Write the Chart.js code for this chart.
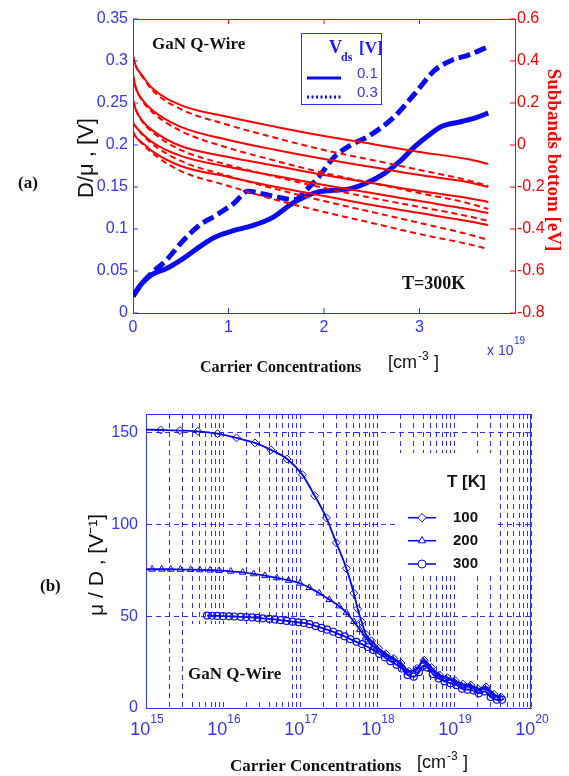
<!DOCTYPE html>
<html><head><meta charset="utf-8">
<script src="https://cdn.jsdelivr.net/npm/chart.js@4.4.1/dist/chart.umd.min.js"></script>
<style>
html,body{margin:0;padding:0;background:#fff;width:569px;height:776px;overflow:hidden}
canvas{position:absolute;left:0}
#ca{top:0}
#cb{top:395px}
</style></head><body>
<canvas id="ca" width="569" height="395"></canvas>
<canvas id="cb" width="569" height="381"></canvas>
<script>
// ================= (a) data =================
// carrier concentration in units of 1e19 cm^-3
const concSolid = [0,0.05,0.1,0.2,0.35,0.5,0.7,0.85,1.05,1.25,1.45,1.69,1.93,2.1,2.28,2.45,2.63,2.8,2.95,3.1,3.23,3.44,3.6,3.72];
const dmuSolid  = [0.020,0.029,0.036,0.046,0.053,0.063,0.079,0.090,0.098,0.104,0.113,0.132,0.144,0.146,0.148,0.155,0.166,0.181,0.198,0.212,0.222,0.228,0.233,0.238];
const concDash  = [0,0.1,0.2,0.35,0.5,0.7,0.85,1.06,1.2,1.35,1.5,1.7,1.8,1.93,2.11,2.28,2.46,2.74,2.95,3.16,3.34,3.51,3.72];
const dmuDash   = [0.020,0.036,0.048,0.063,0.083,0.105,0.115,0.131,0.145,0.142,0.138,0.135,0.145,0.160,0.186,0.200,0.210,0.234,0.261,0.289,0.301,0.307,0.317];
// subband bottoms [eV]
const subX = [0,0.03,0.1,0.2,0.5,1,1.5,2,2.5,3,3.5,3.72];
const sub1Solid = [0.424,0.376,0.329,0.271,0.190,0.133,0.086,0.043,0.005,-0.033,-0.067,-0.090];
const sub2Solid = [0.333,0.271,0.214,0.167,0.086,0.024,-0.024,-0.067,-0.105,-0.143,-0.176,-0.200];
const sub3Solid = [0.214,0.167,0.114,0.071,-0.005,-0.057,-0.100,-0.143,-0.181,-0.219,-0.252,-0.271];
const sub4Solid = [0.105,0.086,0.052,0.014,-0.052,-0.105,-0.148,-0.190,-0.229,-0.267,-0.305,-0.324];
const sub5Solid = [0.062,0.038,0.010,-0.029,-0.100,-0.152,-0.200,-0.243,-0.286,-0.324,-0.362,-0.381];
const sub1Dash  = [0.424,0.376,0.324,0.262,0.171,0.095,0.033,-0.024,-0.071,-0.119,-0.167,-0.195];
const sub2Dash  = [0.333,0.271,0.210,0.157,0.067,-0.014,-0.076,-0.133,-0.181,-0.229,-0.276,-0.305];
const sub3Dash  = [0.214,0.167,0.110,0.062,-0.024,-0.095,-0.152,-0.205,-0.252,-0.295,-0.338,-0.362];
const sub4Dash  = [0.105,0.086,0.048,0.005,-0.076,-0.148,-0.210,-0.267,-0.319,-0.371,-0.424,-0.452];
const sub5Dash  = [0.062,0.038,0.005,-0.038,-0.124,-0.195,-0.262,-0.319,-0.371,-0.424,-0.471,-0.495];
// tick labels (a)
const concTicksA = [0,1,2,3];
const concTickLabelsA = ['0','1','2','3'];
const dmuTicks = [0,0.05,0.1,0.15,0.2,0.25,0.3,0.35];
const dmuTickLabels = ['0','0.05','0.1','0.15','0.2','0.25','0.3','0.35'];
const evTicks = [-0.8,-0.6,-0.4,-0.2,0,0.2,0.4,0.6];
const evTickLabels = ['-0.8','-0.6','-0.4','-0.2','0','0.2','0.4','0.6'];

// ================= (b) data =================
const t100N = [1e15,1.55e15,2.75e15,4.7e15,8.5e15,1.5e16,2.6e16,4.2e16,6.8e16,1.07e17,1.55e17,2.2e17,2.95e17,4e17,5e17,5.6e17,6.3e17,7.2e17,8.5e17,1.05e18,1.3e18,1.65e18,2.05e18,2.6e18,3.3e18,4.1e18,5.1e18,6.5e18,8.2e18,1.03e19,1.3e19,1.65e19,2.05e19,2.6e19,3.3e19,4.1e19];
const t100V = [151.5,151.3,151.0,150.6,149.3,147.0,144.3,140.5,135.5,127.0,115.5,103.5,90.0,76.0,62.5,54,47,40,36.5,32.5,29.5,27,24.5,20,21.5,26,22,18,16.5,15,13,12.5,10.5,11.5,7.5,6];
const t200N = [1e15,1.2e15,1.6e15,2.1e15,2.8e15,3.8e15,5e15,6.8e15,8.9e15,1.26e16,1.8e16,2.5e16,3.5e16,5e16,7.1e16,1e17,1.32e17,1.78e17,2.4e17,3.2e17,4e17,5e17,6e17,7.1e17,7.9e17,1e18,1.26e18,1.6e18,2e18,2.5e18,3.2e18,4e18,5e18,6.3e18,7.9e18,1e19,1.26e19,1.6e19,2e19,2.5e19,3.2e19,4e19];
const t200V = [75.5,75.5,75.5,75.5,75.4,75.3,75.2,75.0,74.8,74.4,73.8,73.0,72.0,70.8,69.4,67.9,65.5,62.5,59,55.5,52,47,42.6,38.5,36,32,29,26.5,24,19.5,20.5,25.5,21,17.5,16,14.5,12,12,9.5,11,7,5.5];
const t300N = [6.2e15,7.2e15,8.4e15,1e16,1.2e16,1.4e16,1.7e16,2e16,2.4e16,2.8e16,3.3e16,4e16,4.7e16,5.6e16,6.7e16,8e16,9.5e16,1.12e17,1.33e17,1.6e17,1.9e17,2.25e17,2.7e17,3.2e17,3.8e17,4.5e17,5.4e17,6.4e17,7.6e17,9e17,1.07e18,1.27e18,1.5e18,1.8e18,2.1e18,2.5e18,3e18,3.5e18,4e18,4.5e18,5.3e18,6.3e18,7.5e18,9e18,1.07e19,1.27e19,1.5e19,1.8e19,2.1e19,2.5e19,3e19,3.6e19,4.2e19];
const t300V = [50.3,50.2,50.1,50.0,49.9,49.8,49.6,49.5,49.3,49.1,48.8,48.5,48.2,47.8,47.4,47.0,46.6,46.3,45.6,44.6,43.6,42.6,41.5,40.2,39.0,37.5,36.0,34.8,33.2,31.5,29.5,27.5,25.5,23.5,21.5,18,17,19.5,23,22,18.5,16,14.5,13.5,12.5,10.5,10,9.5,8,9,6,4.5,4.5];
const legendTemps = ['100','200','300'];
const muTicks = [0,50,100,150];
const muTickLabels = ['0','50','100','150'];
const decadeExps = [15,16,17,18,19,20];
const decadeBase = '10';

// ================= styling =================
const lineBlue = '#0a0af2', axisBlue = '#3434ff', red = '#ff0000', gridBlue = '#2f2fff';
const tickFamily = "'Liberation Sans',Arial,sans-serif";
const serifB = "'Liberation Serif','Times New Roman',serif";
const sansF = "'Liberation Sans',Arial,sans-serif";
const pts = (xs, ys) => xs.map((x, i) => ({x, y: ys[i]}));

function txt(ctx, s, x, y, font, color, align, base, rot) {
  ctx.save();
  ctx.font = font; ctx.fillStyle = color || '#000';
  ctx.textAlign = align || 'left'; ctx.textBaseline = base || 'alphabetic';
  ctx.translate(x, y); if (rot) ctx.rotate(rot);
  ctx.fillText(s, 0, 0);
  ctx.restore();
}
function seg(ctx, x1, y1, x2, y2, color, w, dash) {
  ctx.save(); ctx.strokeStyle = color; ctx.lineWidth = w || 1; ctx.setLineDash(dash || []);
  ctx.beginPath(); ctx.moveTo(x1, y1); ctx.lineTo(x2, y2); ctx.stroke(); ctx.restore();
}
function measure(ctx, s, font) { ctx.save(); ctx.font = font; const w = ctx.measureText(s).width; ctx.restore(); return w; }
function cmUnit(ctx, x, y, color) {
  txt(ctx, '[cm', x, y, "18px " + sansF, color);
  const w = measure(ctx, '[cm', "18px " + sansF);
  txt(ctx, '-3', x + w + 1, y - 8, "12px " + sansF, color);
  txt(ctx, ']', x + w + 17, y, "18px " + sansF, color);
}

// ================= chart (a) =================
const redSolid = [sub1Solid, sub2Solid, sub3Solid, sub4Solid, sub5Solid];
const redDash = [sub1Dash, sub2Dash, sub3Dash, sub4Dash, sub5Dash];
const dsA = [];
redSolid.forEach((arr, i) => dsA.push({label: 'Subband ' + (i + 1) + ' Vds=0.1', data: pts(subX, arr), yAxisID: 'y2', borderColor: red, borderWidth: 2, order: 0, cubicInterpolationMode: 'monotone'}));
redDash.forEach((arr, i) => dsA.push({label: 'Subband ' + (i + 1) + ' Vds=0.3', data: pts(subX, arr), yAxisID: 'y2', borderColor: red, borderWidth: 2, borderDash: [6, 4], order: 0, cubicInterpolationMode: 'monotone'}));
dsA.push({label: 'D/mu Vds=0.1', data: pts(concSolid, dmuSolid), yAxisID: 'y', borderColor: lineBlue, borderWidth: 5, order: 1, cubicInterpolationMode: 'monotone'});
dsA.push({label: 'D/mu Vds=0.3', data: pts(concDash, dmuDash), yAxisID: 'y', borderColor: lineBlue, borderWidth: 5, borderDash: [12, 5], order: 1, cubicInterpolationMode: 'monotone'});

const annotA = {
  id: 'annotA',
  afterDraw(chart) {
    const {ctx, chartArea: ca, scales} = chart;
    seg(ctx, ca.left, ca.top + 0.5, ca.right, ca.top + 0.5, red, 1);
    concTicksA.forEach(v => { if (v === 0) return; const x = scales.x.getPixelForValue(v);
      seg(ctx, x, ca.bottom, x, ca.bottom - 5, axisBlue, 1); seg(ctx, x, ca.top, x, ca.top + 5, red, 1); });
    dmuTicks.forEach(v => { const y = scales.y.getPixelForValue(v); seg(ctx, ca.left, y, ca.left + 5, y, axisBlue, 1); });
    evTicks.forEach(v => { const y = scales.y2.getPixelForValue(v); seg(ctx, ca.right - 5, y, ca.right, y, red, 1); });
    // legend box
    ctx.save(); ctx.fillStyle = '#fff'; ctx.fillRect(301, 33, 80, 71);
    ctx.strokeStyle = axisBlue; ctx.lineWidth = 1; ctx.strokeRect(301.5, 33.5, 80, 71); ctx.restore();
    txt(ctx, 'V', 329, 53, "bold 18px " + serifB, '#1818ff');
    txt(ctx, 'ds', 341, 61, "bold 12px " + serifB, '#1818ff');
    txt(ctx, '[V]', 359, 53, "bold 17px " + serifB, '#1818ff');
    seg(ctx, 307, 78, 341, 78, lineBlue, 3);
    txt(ctx, '0.1', 357, 78, "15px " + tickFamily, axisBlue);
    seg(ctx, 307, 97, 342, 97, lineBlue, 3, [2, 2.5]);
    txt(ctx, '0.3', 357, 97, "15px " + tickFamily, axisBlue);
    // annotations
    txt(ctx, 'GaN Q-Wire', 152, 49, "bold 17px " + serifB, '#111');
    txt(ctx, 'T=300K', 402, 289, "bold 18px " + serifB, '#111');
    txt(ctx, '(a)', 18, 188, "bold 17px " + serifB, '#111');
    txt(ctx, 'Carrier Concentrations', 200, 372, "bold 16px " + serifB, '#111');
    cmUnit(ctx, 388, 368, '#111');
    txt(ctx, 'x 10', 487, 355, "14px " + tickFamily, axisBlue);
    txt(ctx, '19', 514, 344, "10px " + tickFamily, axisBlue);
    txt(ctx, 'D/\u03bc , [V]', 87, 158, "22px " + sansF, '#111', 'center', 'middle', -Math.PI / 2);
    txt(ctx, 'Subbands bottom [eV]', 553, 160, "bold 19px " + serifB, red, 'center', 'middle', Math.PI / 2);
  }
};

new Chart(document.getElementById('ca'), {
  type: 'line',
  data: {datasets: dsA},
  options: {
    responsive: false, animation: false, devicePixelRatio: 1,
    layout: {padding: {top: 19, left: 0, right: 0, bottom: 0}},
    plugins: {legend: {display: false}, tooltip: {enabled: false}},
    elements: {point: {radius: 0}, line: {borderCapStyle: 'butt'}},
    scales: {
      x: {type: 'linear', position: 'bottom', min: 0, max: 4,
        afterBuildTicks: s => { s.ticks = concTicksA.map(v => ({value: v})); },
        afterFit: s => { s.height = 82; },
        ticks: {autoSkip: false, maxRotation: 0, padding: 5, color: axisBlue, font: {family: tickFamily, size: 16}, callback: (v, i) => concTickLabelsA[i]},
        grid: {display: false, drawTicks: false}, border: {display: true, color: axisBlue, width: 1}},
      y: {type: 'linear', position: 'left', min: 0, max: 0.35,
        afterBuildTicks: s => { s.ticks = dmuTicks.map(v => ({value: v})); },
        afterFit: s => { s.width = 133; },
        ticks: {autoSkip: false, padding: 5, color: axisBlue, font: {family: tickFamily, size: 16}, callback: (v, i) => dmuTickLabels[i]},
        grid: {display: false, drawTicks: false}, border: {display: true, color: axisBlue, width: 1}},
      y2: {type: 'linear', position: 'right', min: -0.8, max: 0.6,
        afterBuildTicks: s => { s.ticks = evTicks.map(v => ({value: v})); },
        afterFit: s => { s.width = 54; },
        ticks: {autoSkip: false, padding: 2, color: red, font: {family: tickFamily, size: 16}, callback: (v, i) => evTickLabels[i]},
        grid: {display: false, drawTicks: false}, border: {display: true, color: red, width: 1}}
    }
  },
  plugins: [annotA]
});

// ================= chart (b) =================
const hollow = 'rgba(255,255,255,0)';
const dsB = [
  {label: '100', data: pts(t100N, t100V), borderColor: lineBlue, borderWidth: 1.8, pointStyle: 'rectRot', pointRadius: c => c.dataIndex === 0 ? 0 : 4, pointBorderColor: lineBlue, pointBackgroundColor: hollow, pointBorderWidth: 1, cubicInterpolationMode: 'monotone'},
  {label: '200', data: pts(t200N, t200V), borderColor: lineBlue, borderWidth: 1.8, pointStyle: 'triangle', pointRadius: c => c.dataIndex === 0 ? 0 : 3.8, pointBorderColor: lineBlue, pointBackgroundColor: hollow, pointBorderWidth: 1, cubicInterpolationMode: 'monotone'},
  {label: '300', data: pts(t300N, t300V), borderColor: lineBlue, borderWidth: 1.8, pointStyle: 'circle', pointRadius: 3.5, pointBorderColor: lineBlue, pointBackgroundColor: hollow, pointBorderWidth: 1.2, cubicInterpolationMode: 'monotone'}
];

function marker(ctx, style, x, y, r) {
  ctx.save(); ctx.strokeStyle = lineBlue; ctx.lineWidth = 1; ctx.fillStyle = '#fff'; ctx.beginPath();
  if (style === 'rectRot') { ctx.moveTo(x, y - r); ctx.lineTo(x + r, y); ctx.lineTo(x, y + r); ctx.lineTo(x - r, y); ctx.closePath(); }
  else if (style === 'triangle') { ctx.moveTo(x, y - r); ctx.lineTo(x + r * 0.87, y + r * 0.5); ctx.lineTo(x - r * 0.87, y + r * 0.5); ctx.closePath(); }
  else { ctx.arc(x, y, r, 0, Math.PI * 2); }
  ctx.fill(); ctx.stroke(); ctx.restore();
}

const annotB = {
  id: 'annotB',
  beforeDatasetsDraw(chart) {
    const ctx = chart.ctx;
    ctx.save(); ctx.fillStyle = '#fff';
    ctx.fillRect(395, 58, 102, 120);
    ctx.fillRect(188, 229, 104, 76);
    ctx.restore();
  },
  afterDraw(chart) {
    const {ctx, chartArea: ca, scales} = chart;
    seg(ctx, ca.left, ca.top + 0.5, ca.right, ca.top + 0.5, axisBlue, 1);
    seg(ctx, ca.right - 0.5, ca.top, ca.right - 0.5, ca.bottom, axisBlue, 1);
    // decade tick labels 10^n
    const baseFont = "18px " + tickFamily, expFont = "12px " + tickFamily;
    decadeExps.forEach(e => {
      const x = scales.x.getPixelForValue(Math.pow(10, e));
      const wb = measure(ctx, decadeBase, baseFont), we = measure(ctx, String(e), expFont);
      const x0 = x - (wb + we) / 2 + 1;
      txt(ctx, decadeBase, x0, ca.bottom + 27, baseFont, axisBlue);
      txt(ctx, String(e), x0 + wb, ca.bottom + 15, expFont, axisBlue);
    });
    txt(ctx, 'T [K]', 447, 92, "bold 17px " + sansF, '#111');
    const rows = [122.7, 145.7, 169];
    const styles = ['rectRot', 'triangle', 'circle'];
    legendTemps.forEach((lab, i) => {
      seg(ctx, 408, rows[i], 436, rows[i], lineBlue, 1.6);
      marker(ctx, styles[i], 422, rows[i], i === 2 ? 4 : 4.2);
      txt(ctx, lab, 453, rows[i], "bold 15px " + sansF, '#111', 'left', 'middle');
    });
    txt(ctx, 'GaN Q-Wire', 188, 284, "bold 17px " + serifB, '#111');
    txt(ctx, '(b)', 40, 196, "bold 17px " + serifB, '#111');
    txt(ctx, 'Carrier Concentrations', 230, 376, "bold 17px " + serifB, '#111');
    cmUnit(ctx, 417, 373, '#111');
    txt(ctx, '\u03bc / D , [V\u207b\u00b9]', 97, 170, "21px " + sansF, '#111', 'center', 'middle', -Math.PI / 2);
  }
};

new Chart(document.getElementById('cb'), {
  type: 'line',
  data: {datasets: dsB},
  options: {
    responsive: false, animation: false, devicePixelRatio: 1,
    layout: {padding: {top: 19, left: 0, right: 38, bottom: 0}},
    plugins: {legend: {display: false}, tooltip: {enabled: false}},
    scales: {
      x: {type: 'logarithmic', position: 'bottom', min: 1e15, max: 1e20,
        afterBuildTicks: s => {
          const t = [];
          for (let k = 0; k < decadeExps.length - 1; k++) for (let m = 1; m < 10; m++) t.push({value: m * Math.pow(10, decadeExps[k])});
          t.push({value: Math.pow(10, decadeExps[decadeExps.length - 1])});
          s.ticks = t;
        },
        afterFit: s => { s.height = 68; },
        ticks: {autoSkip: false, maxRotation: 0, padding: 10, color: axisBlue, font: {family: tickFamily, size: 18}, callback: () => ''},
        grid: {display: true, color: gridBlue, lineWidth: 1, drawTicks: false}, border: {display: true, color: axisBlue, width: 1, dash: [5, 4]}},
      y: {type: 'linear', position: 'left', min: 0, max: 160,
        afterBuildTicks: s => { s.ticks = muTicks.map(v => ({value: v})); },
        afterFit: s => { s.width = 146; },
        ticks: {autoSkip: false, padding: 8, color: axisBlue, font: {family: tickFamily, size: 16}, callback: (v, i) => muTickLabels[i]},
        grid: {display: true, color: gridBlue, lineWidth: 1, drawTicks: false}, border: {display: true, color: axisBlue, width: 1, dash: [5, 4]}}
    }
  },
  plugins: [annotB]
});
</script>
</body></html>
